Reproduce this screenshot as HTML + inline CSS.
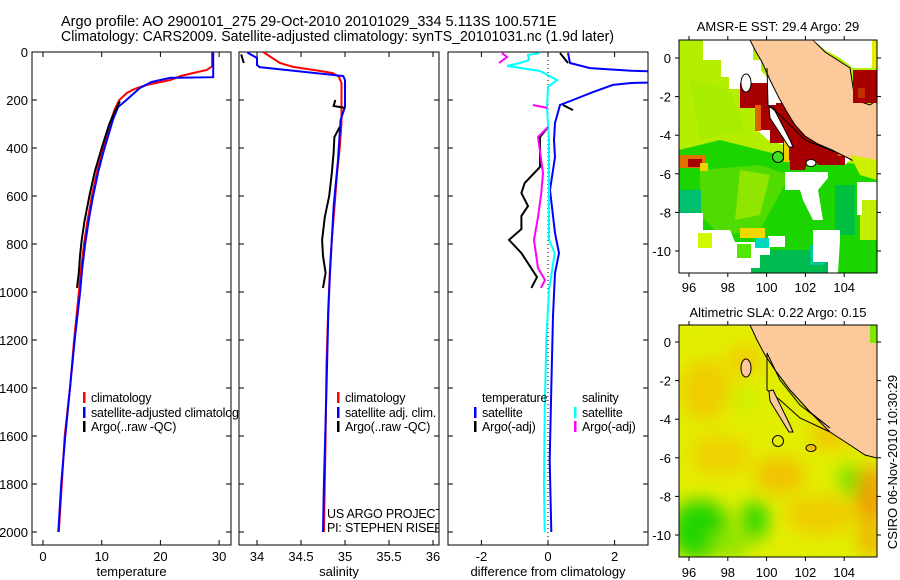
<!DOCTYPE html>
<html><head><meta charset="utf-8"><style>
html,body{margin:0;padding:0;background:#fff;width:900px;height:580px;overflow:hidden}
svg{display:block;font-family:"Liberation Sans",sans-serif}
</style></head><body>
<svg id="fig" width="900" height="580" viewBox="0 0 900 580" xmlns="http://www.w3.org/2000/svg">
<defs>
<clipPath id="c1"><rect x="32" y="52" width="199" height="493"/></clipPath>
<clipPath id="c1w"><rect x="32" y="52" width="207" height="493"/></clipPath>
<clipPath id="c2"><rect x="239" y="52" width="200" height="493"/></clipPath>
<clipPath id="c3"><rect x="448" y="52" width="200" height="493"/></clipPath>
<clipPath id="cm1"><rect x="679" y="40" width="198" height="233"/></clipPath>
<clipPath id="cm2"><rect x="679" y="325" width="198" height="232"/></clipPath>
<filter id="blur" x="-50%" y="-50%" width="200%" height="200%"><feGaussianBlur stdDeviation="9"/></filter>
</defs>
<g font-size="14.5">
<text x="61" y="26">Argo profile: AO 2900101_275 29-Oct-2010 20101029_334 5.113S 100.571E</text>
<text x="61" y="41" textLength="553" lengthAdjust="spacingAndGlyphs">Climatology: CARS2009. Satellite-adjusted climatology: synTS_20101031.nc (1.9d later)</text>
</g>
<g id="panels"></g>

<!-- Map 1: SST -->
<g>
<text x="778" y="31" font-size="13" text-anchor="middle">AMSR-E SST: 29.4  Argo: 29</text>
<g clip-path="url(#cm1)">
<rect x="679" y="40" width="198" height="233" fill="#b4ee00"/>
<polygon points="679,150 720,140 760,150 800,160 877,165 877,273 679,273" fill="#1cd400"/>
<polygon points="700,170 760,165 790,175 760,230 720,235 700,215" fill="#50dc00"/>
<polygon points="740,170 770,175 760,215 735,220" fill="#90e600"/>
<polygon points="690,80 730,90 745,130 700,140" fill="#a8ec00"/>
<rect x="679" y="190" width="22" height="23" fill="#00c070"/>
<polygon points="750,250 830,250 830,273 750,273" fill="#00bc50"/>
<rect x="810" y="245" width="15" height="20" fill="#00c890"/>
<rect x="835" y="185" width="20" height="50" fill="#00c040"/>
<rect x="860" y="200" width="17" height="40" fill="#c0f000"/>
<rect x="740" y="228" width="25" height="10" fill="#f0d800"/>
<rect x="703" y="40" width="50" height="20" fill="#ffffff"/>
<rect x="721" y="60" width="40" height="17" fill="#ffffff"/>
<rect x="729" y="77" width="40" height="12" fill="#ffffff"/>
<polygon points="760,70 790,100 850,160 845,165 800,150 768,140 757,130 760,90" fill="#ffffff"/>
<polygon points="679,213 703,213 703,230 730,230 735,242 768,242 768,236 785,236 785,247 770,247 770,255 760,255 760,268 751,268 751,273 679,273" fill="#ffffff"/>
<rect x="698" y="233" width="14" height="15" fill="#d0f800"/>
<rect x="737" y="244" width="14" height="14" fill="#50e800"/>
<rect x="755" y="238" width="14" height="10" fill="#00d8c0"/>
<polygon points="785,172 828,172 828,178 818,190 823,220 813,220 803,200 800,190 785,190" fill="#ffffff"/>
<polygon points="857,182 877,182 877,200 862,200 862,215 857,215" fill="#ffffff"/>
<polygon points="813,230 840,230 840,240 838,273 828,273 828,262 813,262" fill="#ffffff"/>
<rect x="679" y="155" width="26" height="13" fill="#e07000"/>
<rect x="688" y="159" width="14" height="8" fill="#a80000"/>
<rect x="700" y="163" width="8" height="8" fill="#f0d000"/>
<polygon points="740,83 768,83 768,105 776,105 776,103 788,103 795,117 806,125 815,133 826,140 845,150 845,165 835,165 818,165 815,160 808,160 805,170 790,170 790,160 783,160 783,143 770,143 770,130 757,130 757,108 740,108" fill="#a80000"/>
<rect x="755" y="105" width="6" height="26" fill="#e06000"/>
<rect x="784" y="140" width="5" height="22" fill="#f0d000"/>
<rect x="838" y="140" width="8" height="16" fill="#e07000"/>
<polygon points="750,40 813,40 825,52 850,68 855,100 870,105 877,100 877,170 870,172 862,165 848,158 832,150 818,144 805,136 795,125 787,112 779,98 770,80 762,62 755,50" fill="#fbc99a" stroke="#000" stroke-width="1"/>
<polygon points="813,40 872,40 872,68 853,68 840,58 825,50" fill="#ffffff"/>
<rect x="872" y="40" width="5" height="28" fill="#e0f000"/>
<rect x="853" y="70" width="24" height="33" fill="#a80000"/>
<rect x="858" y="88" width="7" height="10" fill="#c03000"/>
<polygon points="850,155 877,160 877,180 860,175" fill="#d0f000"/>
<ellipse cx="746" cy="83" rx="5" ry="9" fill="#fff" stroke="#000"/>
<polygon points="769,108 773,107 790,140 793,147 789,147 770,118" fill="#fff" stroke="#000"/>
<ellipse cx="811" cy="163" rx="5" ry="3.5" fill="#fff" stroke="#000"/>
<polyline points="767,68 768,105 780,115 795,130 805,140 835,152" fill="none" stroke="#000" stroke-width="1"/>
<circle cx="778" cy="157" r="5.5" fill="#40e020" stroke="#000"/>
</g>
<rect x="679" y="40" width="198" height="233" fill="none" stroke="#000" stroke-width="1"/>
<g id="m1ticks" font-size="13"></g>
</g>

<!-- Map 2: SLA -->
<g>
<text x="778" y="317" font-size="13" text-anchor="middle">Altimetric SLA: 0.22  Argo: 0.15</text>
<g clip-path="url(#cm2)">
<rect x="679" y="325" width="198" height="232" fill="#e2ee00"/>
<g filter="url(#blur)">
<ellipse cx="705" cy="390" rx="25" ry="30" fill="#f0cc00"/>
<ellipse cx="745" cy="360" rx="18" ry="15" fill="#f0cc00"/>
<ellipse cx="720" cy="455" rx="30" ry="20" fill="#f0d000"/>
<ellipse cx="780" cy="475" rx="25" ry="18" fill="#f2c000"/>
<ellipse cx="830" cy="435" rx="20" ry="14" fill="#f2c400"/>
<ellipse cx="820" cy="515" rx="35" ry="20" fill="#f0cc00"/>
<ellipse cx="870" cy="495" rx="14" ry="30" fill="#f09a00"/>
<ellipse cx="870" cy="540" rx="12" ry="16" fill="#f0b000"/>
<ellipse cx="745" cy="400" rx="12" ry="12" fill="#c8f000"/>
<ellipse cx="700" cy="530" rx="30" ry="30" fill="#20d400"/>
<ellipse cx="755" cy="520" rx="14" ry="20" fill="#30d800"/>
<ellipse cx="850" cy="480" rx="10" ry="16" fill="#60e000"/>
<ellipse cx="730" cy="545" rx="20" ry="14" fill="#90e400"/>
</g>
<polygon points="750,325 877,325 877,458 865,455 850,445 830,432 810,412 790,390 775,370 765,355 757,340" fill="#fbc99a" stroke="#000"/>
<polygon points="767,353 780,380 800,405 830,428 810,412 790,390 775,370" fill="#d8f000" stroke="#000"/>
<rect x="870" y="325" width="7" height="18" fill="#80e800"/>
<polyline points="767,353 767,390 780,400 800,418 830,432" fill="none" stroke="#000"/>
<ellipse cx="746" cy="368" rx="5" ry="9" fill="#fbc99a" stroke="#000"/>
<polygon points="769,391 773,390 790,425 793,432 789,432 770,401" fill="#fbc99a" stroke="#000"/>
<ellipse cx="811" cy="448" rx="5" ry="3.5" fill="#f0c000" stroke="#000"/>
<circle cx="778" cy="441" r="5.5" fill="none" stroke="#000"/>
</g>
<rect x="679" y="325" width="198" height="232" fill="none" stroke="#000"/>
<g id="m2ticks" font-size="13"></g>
</g>
<text transform="translate(897,462) rotate(-90)" font-size="13" text-anchor="middle">CSIRO 06-Nov-2010 10:30:29</text>
</svg>
<script>
// ---- data ----
const depthTicks=[0,200,400,600,800,1000,1200,1400,1600,1800,2000];
const tempTicks=[0,10,20,30];
const salTicks=[34,34.5,35,35.5,36];
const diffTicks=[-2,0,2];
const tempClimD=[0,60,75,88,100,117,137,155,171,200,240,283,350,408,500,604,700,796,900,1004,1200,1400,1600,1800,2000];
const tempClimV=[28.8,28.8,27.9,25.5,23.5,21.6,17.7,15.5,14.3,13.0,12.2,11.6,10.9,10.2,9.2,8.3,7.6,7.0,6.5,6.1,5.3,4.6,3.7,3.2,2.7];
const tempSatD=[0,105,108,125,150,200,229,283,350,408,500,604,700,796,900,1004,1200,1400,1600,1800,2000];
const tempSatV=[29.0,29.0,21.6,18.5,16.5,14.2,12.8,11.9,11.1,10.4,9.4,8.5,7.8,7.2,6.7,6.3,5.4,4.6,3.8,3.1,2.6];
const tempArgoD=[205,250,300,400,500,600,700,783,850,920,983];
const tempArgoV=[13.1,12.2,11.3,10.0,8.8,7.9,7.1,6.6,6.3,6.1,5.8];
const salClimD=[0,46,62,79,88,103,130,200,296,400,504,650,783,900,1063,1300,1600,1800,2000];
const salClimV=[34.07,34.26,34.41,34.72,34.86,34.93,34.96,34.96,34.96,34.94,34.91,34.88,34.85,34.83,34.81,34.79,34.78,34.77,34.76];
const salSatD=[0,4,25,54,63,100,117,229,283,450,646,921,1088,1400,1800,2000];
const salSatV=[33.9,33.9,34.0,34.0,34.03,34.98,35.0,35.0,34.95,34.92,34.87,34.83,34.81,34.79,34.76,34.75];
const salArgoD=[10,46,NaN,200,225,233,NaN,313,354,420,504,600,688,783,850,920,983];
const salArgoV=[33.82,33.85,NaN,34.89,34.87,35.0,NaN,34.94,34.88,34.87,34.85,34.82,34.77,34.74,34.75,34.78,34.75];
const dTSatD=[4,46,67,78,85,125,129,137,167,200,221,296,367,438,575,754,838,921,1100,1400,1700,2000];
const dTSatV=[0.6,0.66,1.26,2.5,4,4,2.5,1.95,1.35,0.75,0.36,0.21,0.18,0.21,0.06,0.21,0.33,0.21,0.15,0.1,0.05,0.1];
const dTArgoD=[4,46,NaN,221,242,NaN,313,354,479,546,588,642,683,738,783,838,938,983];
const dTArgoV=[0.36,0.6,NaN,0.45,0.75,NaN,0,-0.24,-0.24,-0.7,-0.8,-0.6,-0.8,-0.8,-1.17,-0.8,-0.33,-0.5];
const dSSatD=[4,12,33,46,58,79,117,146,229,367,600,783,838,992,1200,1500,1800,2000];
const dSSatV=[-0.24,-0.6,-0.57,-0.84,-1.23,-0.24,0.27,0,-0.03,0.03,0.03,0.03,0.2,0.03,-0.05,-0.1,-0.12,-0.1];
const dSArgoD=[4,21,46,NaN,221,233,NaN,313,354,504,588,688,783,900,950,983];
const dSArgoV=[-1.38,-1.23,-1.47,NaN,-0.45,-0.03,NaN,0,-0.3,-0.15,-0.2,-0.3,-0.42,-0.3,-0.09,-0.21];
const lonTicks=[96,98,100,102,104];
const latTicks=[0,-2,-4,-6,-8,-10];

// ---- helpers ----
const NS='http://www.w3.org/2000/svg';
const root=document.getElementById('panels');
function mk(tag,attrs,parent){const e=document.createElementNS(NS,tag);for(const k in attrs)e.setAttribute(k,attrs[k]);(parent||root).appendChild(e);return e;}
const yD=d=>52+d*0.24;
const panels=[
 {name:'temperature',x0:32,x1:231,base:0,k:5.87,org:43,ticks:tempTicks,clip:'c1',title:'temperature'},
 {name:'salinity',x0:239,x1:439,base:34,k:88,org:257,ticks:salTicks,clip:'c2',title:'salinity'},
 {name:'difference',x0:448,x1:648,base:0,k:33.3,org:548,ticks:diffTicks,clip:'c3',title:'difference from climatology'}
];
panels.forEach(p=>{p.x=v=>p.org+(v-p.base)*p.k;});
function pathFrom(p,D,V){let s='',pen=false;for(let i=0;i<D.length;i++){if(isNaN(D[i])||isNaN(V[i])){pen=false;continue;}s+=(pen?'L':'M')+p.x(V[i]).toFixed(1)+','+yD(D[i]).toFixed(1);pen=true;}return s;}
function series(p,D,V,color,name){
 const g=mk('path',{d:pathFrom(p,D,V),fill:'none',stroke:color,'stroke-width':2,'clip-path':'url(#'+p.clip+')'});
 
 
}

panels.forEach((p,i)=>{
 const fr=mk('rect',{x:p.x0,y:52,width:p.x1-p.x0,height:493,fill:'#fff',stroke:'#000','stroke-width':1});
 
 
 depthTicks.forEach(d=>{
  mk('line',{x1:p.x0,x2:p.x0+5,y1:yD(d),y2:yD(d),stroke:'#000'});
  mk('line',{x1:p.x1-5,x2:p.x1,y1:yD(d),y2:yD(d),stroke:'#000'});
  if(i===0){const t=mk('text',{x:28,y:yD(d)+5,'font-size':13,'text-anchor':'end'});t.textContent=d;
   
   }
 });
 p.ticks.forEach(v=>{
  const x=p.x(v);
  mk('line',{x1:x,x2:x,y1:545,y2:540,stroke:'#000'});
  mk('line',{x1:x,x2:x,y1:52,y2:57,stroke:'#000'});
  const t=mk('text',{x:x,y:561,'font-size':13,'text-anchor':'middle'});t.textContent=v;
  
  
 });
 const tt=mk('text',{x:(p.x0+p.x1)/2,y:576,'font-size':13,'text-anchor':'middle'});tt.textContent=p.title;
 
 
});
const P1=panels[0],P2=panels[1],P3=panels[2];
series(P1,tempClimD,tempClimV,'#f00','temp-climatology-line');
series(P1,tempSatD,tempSatV,'#00f','temp-satellite-line');
series(P1,tempArgoD,tempArgoV,'#000','temp-argo-line');
series(P2,salClimD,salClimV,'#f00','sal-climatology-line');
series(P2,salSatD,salSatV,'#00f','sal-satellite-line');
series(P2,salArgoD,salArgoV,'#000','sal-argo-line');
const zl=mk('line',{x1:P3.x(0),x2:P3.x(0),y1:52,y2:545,stroke:'#000','stroke-dasharray':'1,3'});


series(P3,dTSatD,dTSatV,'#00f','temp-diff-satellite-line');
series(P3,dTArgoD,dTArgoV,'#000','temp-diff-argo-line');
series(P3,dSSatD,dSSatV,'#0ff','sal-diff-satellite-line');
series(P3,dSArgoD,dSArgoV,'#f0f','sal-diff-argo-line');

function legend(items,clipId){
 items.forEach(it=>{
  if(it.c){mk('rect',{x:it.x-8,y:it.y-10,width:2.5,height:11,fill:it.c});}
  const t=mk('text',{x:it.x,y:it.y,'font-size':12.5,'letter-spacing':'-0.2','clip-path':'url(#'+clipId+')'});t.textContent=it.t;
  
  
 });
}
legend([{x:91,y:402,t:'climatology',c:'#f00'},{x:91,y:417,t:'satellite-adjusted climatology',c:'#00f'},{x:91,y:431,t:'Argo(..raw -QC)',c:'#000'}],'c1w');
legend([{x:345,y:402,t:'climatology',c:'#f00'},{x:345,y:417,t:'satellite adj. clim.',c:'#00f'},{x:345,y:431,t:'Argo(..raw -QC)',c:'#000'}],'c2');
legend([{x:482,y:402,t:'temperature'},{x:482,y:417,t:'satellite',c:'#00f'},{x:482,y:431,t:'Argo(-adj)',c:'#000'},{x:582,y:402,t:'salinity'},{x:582,y:417,t:'satellite',c:'#0ff'},{x:582,y:431,t:'Argo(-adj)',c:'#f0f'}],'c3');
const u1=mk('text',{x:327,y:518,'font-size':12.5,'letter-spacing':'-0.2','clip-path':'url(#c2)'});u1.textContent='US ARGO PROJECT';


const u2=mk('text',{x:327,y:532,'font-size':12.5,'letter-spacing':'-0.2','clip-path':'url(#c2)'});u2.textContent='PI: STEPHEN RISER';



function mapTicks(gid,lat0y,top,bot,labY){
 const g=document.getElementById(gid);
 lonTicks.forEach(l=>{const x=689+(l-96)*19.4;
  mk('line',{x1:x,x2:x,y1:bot,y2:bot+4,stroke:'#000'},g);mk('line',{x1:x,x2:x,y1:top,y2:top-4,stroke:'#000'},g);
  const t=mk('text',{x:x,y:labY,'text-anchor':'middle'},g);t.textContent=l;
  
  });
 latTicks.forEach(l=>{const y=lat0y-l*19.3;
  mk('line',{x1:675,x2:679,y1:y,y2:y,stroke:'#000'},g);mk('line',{x1:877,x2:881,y1:y,y2:y,stroke:'#000'},g);
  const t=mk('text',{x:671,y:y+5,'text-anchor':'end'},g);t.textContent=l;
  
  });
}
mapTicks('m1ticks',58,40,273,292);
mapTicks('m2ticks',342,325,557,577);
</script>
</body></html>
